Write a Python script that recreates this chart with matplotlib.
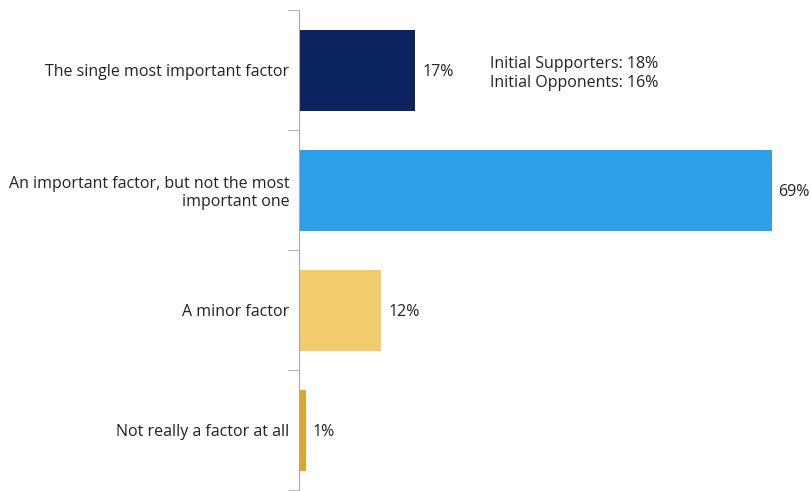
import numpy as np
import matplotlib.pyplot as plt

# Data
categories = ["The single most important factor",
              "An important factor, but not the most\nimportant one",
              "A minor factor",
              "Not really a factor at all"]
values = [17, 69, 12, 1]
barColors = ["#0B235E", "#2E9FEA", "#F2CB6C", "#E0A526"]
noteLines = ["Initial Supporters: 18%", "Initial Opponents: 16%"]

plt.rcParams['font.family'] = ['Open Sans', 'DejaVu Sans']
fs = 11.5

fig = plt.figure(figsize=(8.12, 4.91), dpi=100)
ax = fig.add_axes([299/812, 1/491, (782-299)/812, 480/491])

pos = np.arange(len(categories))
ax.barh(pos, values, height=0.675, color=barColors)
ax.set_ylim(len(categories) - 0.5, -0.5)
ax.set_xlim(0, 70.5)

# Value labels
for p, v in zip(pos, values):
    ax.text(v + 1, p, f"{v}%", va="center_baseline", ha="left",
            fontsize=fs, color="#222222")

# Note next to first bar
ax.text(0.395, 0.868, "\n".join(noteLines), transform=ax.transAxes,
        ha="left", va="center", fontsize=fs, color="#222222", linespacing=1.2)

# Axis styling
for s in ["top", "right", "bottom"]:
    ax.spines[s].set_visible(False)
ax.spines["left"].set_color("#a6a6a6")
ax.set_xticks([])
ax.set_yticks(pos)
ax.set_yticklabels(categories, fontsize=fs, color="#222222", ha="right",
                   va="center_baseline", linespacing=1.15)
ax.tick_params(axis="y", which="major", length=0, pad=7)
ax.set_yticks(np.arange(len(categories) + 1) - 0.5, minor=True)
ax.tick_params(axis="y", which="minor", length=8, color="#a6a6a6")

fig.savefig("out.png", dpi=100)
